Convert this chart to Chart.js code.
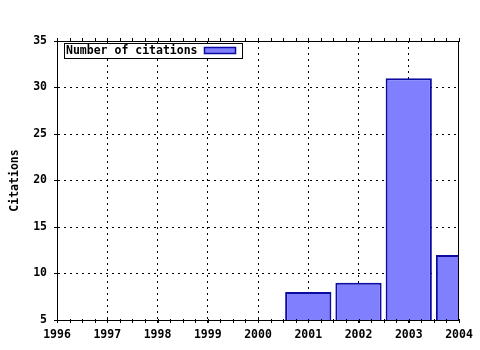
<!DOCTYPE html>
<html>
<head>
<meta charset="utf-8">
<script src="https://cdn.jsdelivr.net/npm/chart.js@4.4.0/dist/chart.umd.min.js"></script>
<style>
  html,body{margin:0;padding:0;background:#fff;}
  #wrap{width:480px;height:350px;position:relative;}
</style>
</head>
<body>
<div id="wrap"><canvas id="cit"></canvas></div>
<script>
// datos
const years = [2001, 2002, 2003, 2004];
const citations = [8, 9, 31, 12];
const seriesLabel = 'Number of citations';
const yTitle = 'Citations';
const xMin = 1996, xMax = 2004;
const yMin = 5, yMax = 35;

const FILL = '#8080ff';
const EDGE = '#0c0ca0';
const FONT = 'bold 11.5px "DejaVu Sans Mono", monospace';

Chart.defaults.font.family = '"DejaVu Sans Mono", monospace';
Chart.defaults.font.weight = 'bold';
Chart.defaults.font.size = 11.5;
Chart.defaults.color = '#000';

// marco superior/derecho, marcas menores y leyenda tipo gnuplot
const framePlugin = {
  id:'frame',
  afterDraw(chart){
    const {ctx, chartArea:a, scales:{x}} = chart;
    ctx.save();
    ctx.strokeStyle = '#000';
    ctx.lineWidth = 1;
    ctx.beginPath();
    ctx.moveTo(a.left, a.top+0.5); ctx.lineTo(a.right, a.top+0.5);
    ctx.moveTo(a.right-0.5, a.top); ctx.lineTo(a.right-0.5, a.bottom);
    for(let v=xMin; v<=xMax+1e-9; v+=0.25){
      const px = Math.round(x.getPixelForValue(v))+0.5;
      ctx.moveTo(px, a.top-3); ctx.lineTo(px, a.top+1);
      ctx.moveTo(px, a.bottom-1); ctx.lineTo(px, a.bottom+3);
    }
    ctx.stroke();

    // leyenda
    const lx = a.left+7, ly = a.top+2, lw = 178, lh = 15;
    ctx.fillStyle = '#fff';
    ctx.fillRect(lx, ly, lw, lh);
    ctx.strokeRect(lx+0.5, ly+0.5, lw, lh);
    ctx.fillStyle = '#000';
    ctx.font = FONT;
    ctx.textBaseline = 'middle';
    ctx.fillText(chart.data.datasets[0].label, lx+2, ly+lh/2+1);
    ctx.fillStyle = FILL;
    ctx.fillRect(lx+140, ly+4, 32, 7);
    ctx.strokeStyle = EDGE;
    ctx.lineWidth = 1.5;
    ctx.strokeRect(lx+140.5, ly+4.5, 31, 6);
    ctx.restore();
  }
};

new Chart(document.getElementById('cit'), {
  type:'bar',
  data:{
    datasets:[{
      label: seriesLabel,
      data: years.map((y,i)=>({x:y, y:citations[i]})),
      backgroundColor: FILL,
      borderColor: EDGE,
      borderWidth: 2,
      barPercentage: 0.92,
      categoryPercentage: 1,
      clip: 0
    }]
  },
  options:{
    responsive:true, maintainAspectRatio:false, animation:false,
    layout:{padding:{top:41, right:21, left:0, bottom:0}},
    plugins:{legend:{display:false}, tooltip:{enabled:false}},
    scales:{
      x:{
        type:'linear', min:xMin, max:xMax, offset:false,
        afterFit(s){ s.height = 30; },
        grid:{
          offset:false,
          color:c => (c.tick.value>xMin && c.tick.value<xMax) ? '#000' : 'rgba(0,0,0,0)',
          tickColor:'#000', tickLength:3
        },
        border:{color:'#000', dash:[2,4]},
        ticks:{stepSize:1, autoSkip:false, maxRotation:0, padding:5, callback:v => String(v)}
      },
      y:{
        min:yMin, max:yMax,
        afterFit(s){ s.width = 57; },
        grid:{
          color:c => (c.tick.value>yMin && c.tick.value<yMax) ? '#000' : 'rgba(0,0,0,0)',
          tickColor:'#000', tickLength:3
        },
        border:{color:'#000', dash:[2,4]},
        ticks:{stepSize:5, padding:7},
        title:{display:true, text:yTitle, padding:{top:8, bottom:0}}
      }
    }
  },
  plugins:[framePlugin]
});
</script>
</body>
</html>
